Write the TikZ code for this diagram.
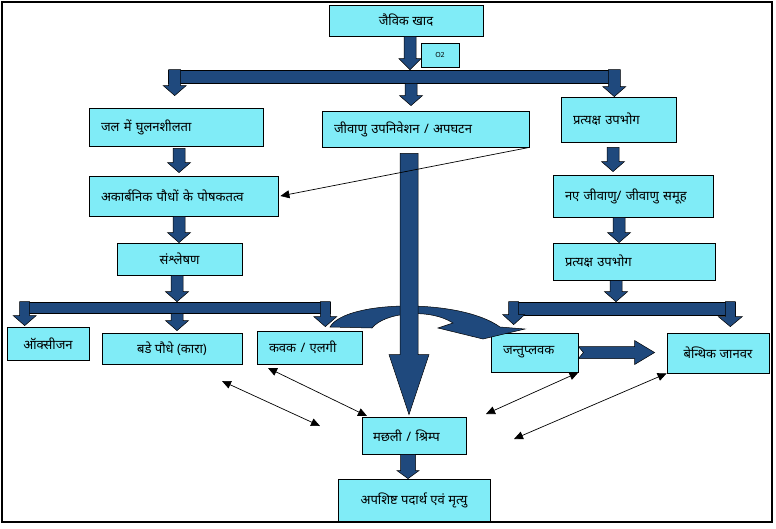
\documentclass[tikz,border=0pt]{standalone}
\usepackage{fontspec}
\newfontfamily\deva[Script=Devanagari]{Noto Sans}
\usepackage{tikz}
\usetikzlibrary{arrows.meta, calc}

\definecolor{boxcyan}{RGB}{128,236,247}
\definecolor{arrowblue}{RGB}{31,73,125}

% block arrow pointing down: from, to, shaft half width, head half width, head length
\newcommand{\blkdown}[5]{%
  \path[blockarrow] let \p1=#1, \p2=#2 in
    (\x1-#3,\y1) -- (\x1+#3,\y1) -- (\x1+#3,\y2+#5) -- (\x1+#4,\y2+#5)
    -- (\x1,\y2) -- (\x1-#4,\y2+#5) -- (\x1-#3,\y2+#5) -- cycle;}

\begin{document}
\begin{tikzpicture}[
    x=1pt, y=-1pt,
    box/.style={
        rectangle,
        draw=black,
        line width=0.8pt,
        fill=boxcyan,
        inner sep=0pt,
        align=center,
        font=\deva\fontsize{13}{15}\selectfont
    },
    lbox/.style={box, inner xsep=12pt, align=left},
    barbox/.style={rectangle, draw=black, line width=0.6pt, fill=arrowblue, inner sep=0pt},
    blockarrow/.style={draw=black, line width=0.5pt, fill=arrowblue},
    thinarrow/.style={{Triangle[length=9pt,width=8pt]}-{Triangle[length=9pt,width=8pt]}, line width=0.7pt}
]
    \useasboundingbox (0,0) rectangle (776,528);
    \draw[line width=1.2pt] (2,2) rectangle (772,522);

    % Top
    \node[box, minimum width=154, minimum height=31] (khad) at (406,20.5) {जैविक खाद};
    \node[box, minimum width=38, minimum height=24, font=\deva\fontsize{7}{8}\selectfont] (otwo) at (440,55) {O2};
    \node[barbox, minimum width=447, minimum height=13] (barA) at (391.5,76.5) {};

    % Second row
    \node[lbox, text width=150, minimum height=38] (jal) at (176,127) {जल में घुलनशीलता};
    \node[lbox, text width=183, minimum height=36] (jivanu) at (425.5,129) {जीवाणु उपनिवेशन / अपघटन};
    \node[lbox, text width=91, minimum height=45] (pratyA) at (618.5,119.5) {प्रत्यक्ष उपभोग};

    % Left column
    \node[lbox, text width=165, minimum height=40] (akarb) at (183.5,196) {अकार्बनिक पौधों के पोषकतत्व};
    \node[box, minimum width=125, minimum height=32] (sansh) at (179.5,259) {संश्लेषण};
    \node[barbox, minimum width=310, minimum height=11] (barB) at (175,307.5) {};
    \node[box, minimum width=82, minimum height=33] (oxy) at (48,343.5) {ऑक्सीजन};
    \node[box, minimum width=140, minimum height=31] (bade) at (172,348.5) {बडे पौधे (कारा)};
    \node[lbox, text width=81, minimum height=33] (kavak) at (309.5,347.5) {कवक / एलगी};

    % Right column
    \node[lbox, text width=136, minimum height=42] (naye) at (633,196) {नए जीवाणु/ जीवाणु समूह};
    \node[lbox, text width=138, minimum height=37] (pratyB) at (634,261.5) {प्रत्यक्ष उपभोग};
    \node[barbox, minimum width=225, minimum height=13] (barC) at (622.5,308.5) {};
    \node[lbox, text width=63, minimum height=39] (jantu) at (534.5,352.5) {जन्तुप्लवक};
    \node[box, minimum width=102, minimum height=40] (benth) at (718,353) {बेन्थिक जानवर};

    % Bottom
    \node[lbox, inner xsep=11pt, text width=82, minimum height=37] (machli) at (414,435.5) {मछली / श्रिम्प};
    \node[box, minimum width=152, minimum height=42] (apash) at (414,500) {अपशिष्ट पदार्थ एवं मृत्यु};

    % Block arrows
    \blkdown{([xshift=4pt]khad.south)}{(barA.north)}{6pt}{11pt}{11pt}
    \blkdown{([xshift=7pt]barA.north west)}{([yshift=12pt]jal.north)}{6pt}{11.5pt}{10pt}
    \blkdown{([xshift=19.5pt]barA.south)}{([yshift=5pt]jivanu.north)}{6pt}{11.5pt}{10pt}
    \blkdown{([xshift=-1pt]barA.north east)}{(pratyA.north)}{6pt}{11.5pt}{10pt}

    \blkdown{([xshift=3pt,yshift=-2pt]jal.south)}{([yshift=3pt]akarb.north)}{6pt}{11.5pt}{10pt}
    \blkdown{([xshift=-4.5pt]akarb.south)}{(sansh.north)}{6pt}{11.5pt}{10pt}
    \blkdown{([xshift=-2.5pt]sansh.south)}{(barB.north)}{6pt}{11.5pt}{10pt}
    \blkdown{([xshift=5pt]barB.north west)}{([yshift=1pt]oxy.north)}{5pt}{11.5pt}{10pt}
    \blkdown{([xshift=2pt]barB.south)}{([yshift=2pt]bade.north)}{6pt}{11.5pt}{10pt}
    \blkdown{([xshift=-5pt]barB.north east)}{([yshift=4pt]kavak.north)}{5pt}{11.5pt}{10pt}

    \blkdown{([xshift=-5.5pt,yshift=-5pt]pratyA.south)}{([yshift=3pt]naye.north)}{6pt}{11.5pt}{10pt}
    \blkdown{([xshift=-14pt]naye.south)}{(pratyB.north)}{6pt}{11.5pt}{10pt}
    \blkdown{([xshift=-18pt]pratyB.south)}{(barC.north)}{6pt}{11.5pt}{10pt}
    \blkdown{([xshift=4pt]barC.north west)}{([yshift=8pt]jantu.north)}{5pt}{11pt}{10pt}
    \blkdown{([xshift=-5pt]barC.north east)}{([yshift=6pt]benth.north)}{5pt}{12pt}{10pt}

    \blkdown{([xshift=-6pt]machli.south)}{(apash.north)}{7.5pt}{11pt}{8pt}

    % jantu to benthic
    \path[blockarrow] let \p1=(jantu.east), \p2=([xshift=-12pt]benth.west) in
        (\x1,\y1+6pt) -- (\x2-20pt,\y1+6pt) -- (\x2-20pt,\y1+12pt) -- (\x2,\y1)
        -- (\x2-20pt,\y1-12pt) -- (\x2-20pt,\y1-6pt) -- (\x1,\y1-6pt) -- (\x1+5pt,\y1) -- cycle;

    % curved arrow
    \path[blockarrow] (330,327) .. controls (345,300) and (460,298) .. (500,327)
        -- (525,329) -- (483,339) -- (438,328) -- (453,323)
        .. controls (430,308) and (385,312) .. (372,328) -- cycle;

    % big arrow down to fish
    \blkdown{([xshift=-16.5pt,yshift=-6pt]jivanu.south)}{([yshift=2pt]machli.north)}{9pt}{20pt}{60pt}

    % thin arrows
    \draw[-{Triangle[length=9pt,width=8pt]}, line width=0.7pt] (jivanu.south east) -- ([xshift=2pt]akarb.east);

    \coordinate (pa) at (222,381);
    \coordinate (pb) at (320,426);
    \coordinate (pc) at (268,368);
    \coordinate (pd) at (367,416);
    \coordinate (pe) at (486,414);
    \coordinate (pf) at (514,439);
    \draw[thinarrow] (pa) -- (pb);
    \draw[thinarrow] (pc) -- (pd);
    \draw[thinarrow] (jantu.south east) -- (pe);
    \draw[thinarrow] (benth.south west) -- (pf);
\end{tikzpicture}
\end{document}
